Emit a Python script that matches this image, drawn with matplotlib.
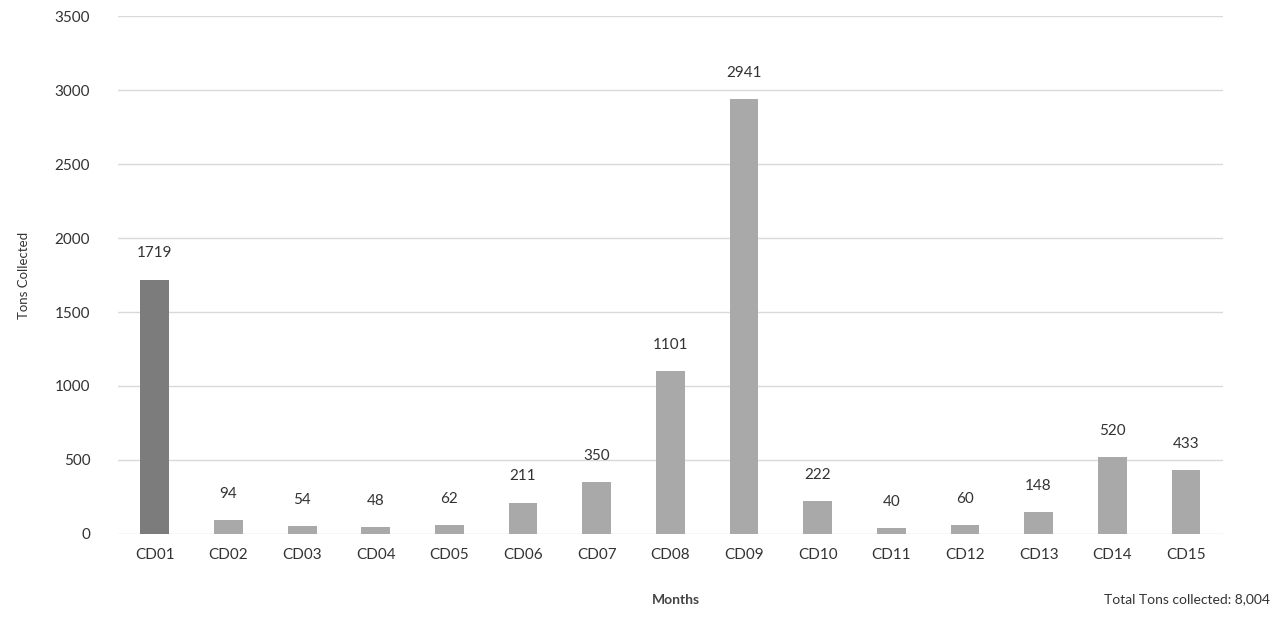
import numpy as np
import matplotlib.pyplot as plt

plt.rcParams['font.family'] = ['Lato', 'DejaVu Sans']

districts = ['CD01', 'CD02', 'CD03', 'CD04', 'CD05', 'CD06', 'CD07', 'CD08',
             'CD09', 'CD10', 'CD11', 'CD12', 'CD13', 'CD14', 'CD15']
tons = [1719, 94, 54, 48, 62, 211, 350, 1101, 2941, 222, 40, 60, 148, 520, 433]
total_label = 'Total Tons collected: 8,004'

fig = plt.figure(figsize=(12.83, 6.18), dpi=100)
ax = fig.add_axes([0.092, 0.136, 0.861, 0.838])

x = np.arange(len(districts))
colors = ['#7c7c7c'] + ['#a9a9a9'] * (len(districts) - 1)
bars = ax.bar(x, tons, width=0.39, color=colors, zorder=3)

for b, v in zip(bars, tons):
    ax.text(b.get_x() + b.get_width() / 2, v + 130, str(v),
            ha='center', va='bottom', fontsize=11, color='#333333')

ax.set_xlim(-0.5, len(districts) - 0.5)
ax.set_ylim(0, 3500)
ax.set_yticks(np.arange(0, 3501, 500))
ax.set_xticks(x)
ax.set_xticklabels(districts)
ax.tick_params(axis='both', length=0, labelsize=11, colors='#333333')
ax.tick_params(axis='x', pad=10)
ax.tick_params(axis='y', pad=20)
ax.grid(axis='y', color='#d9d9d9', linewidth=1, zorder=0)
for s in ax.spines.values():
    s.set_visible(False)

ax.set_ylabel('Tons Collected', fontsize=9.5, color='#333333', labelpad=18)
fig.text(0.527, 0.02, 'Months', ha='center', va='bottom', fontsize=10,
         fontweight='bold', color='#444444')
fig.text(0.99, 0.02, total_label, ha='right', va='bottom', fontsize=10,
         color='#333333')

fig.savefig('out.png', dpi=100)
